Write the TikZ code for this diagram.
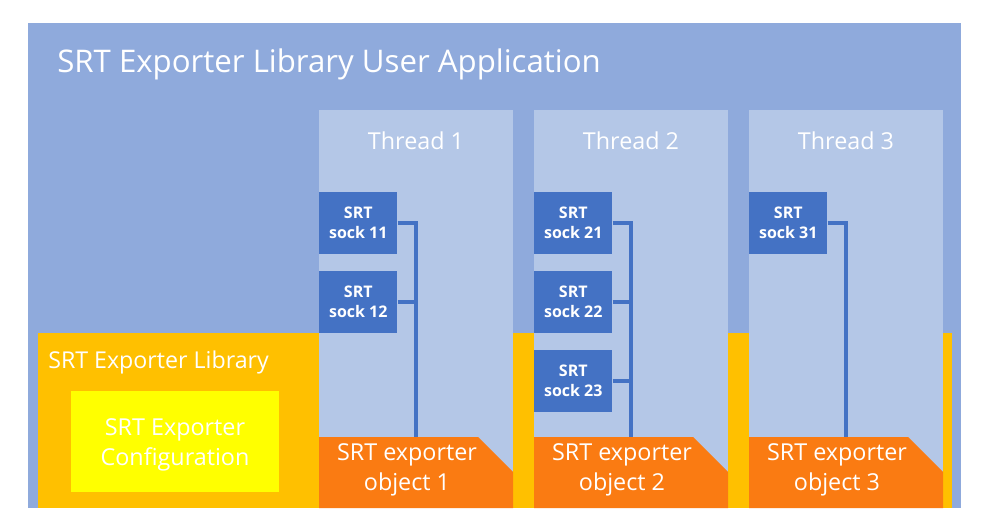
\documentclass[tikz,border=0pt]{standalone}
\usepackage{fontspec}
\setmainfont{Open Sans}
\usetikzlibrary{positioning}
\definecolor{appblue}{RGB}{143,170,220}
\definecolor{threadblue}{RGB}{180,199,231}
\definecolor{sockblue}{RGB}{68,114,196}
\definecolor{libgold}{RGB}{255,192,0}
\definecolor{cfgyellow}{RGB}{255,255,0}
\definecolor{objorange}{RGB}{250,123,18}

\begin{document}
\begin{tikzpicture}[x=0.75pt,y=-0.75pt,
	sock/.style={fill=sockblue, text=white, font=\bfseries\fontsize{12}{15}\selectfont, minimum width=58.5pt, minimum height=46.5pt, inner sep=0pt, align=center, anchor=north west},
	link/.style={draw=sockblue, line width=3pt},
	label/.style={text=white, inner sep=0pt},
	objtext/.style={text=white, inner sep=0pt, align=center, font=\fontsize{17.5}{22.5}\selectfont}]
				\useasboundingbox (0,0) rectangle (988,528);
				\fill[white] (0,0) rectangle (988,528);
				
				% user application
				\fill[appblue] (28,23) rectangle (961,508);
				\node[label, anchor=base west, font=\fontsize{23.4}{28}\selectfont] (app) at (57,73) {SRT Exporter Library User Application};
				
				% library
				\fill[libgold] (38,333) rectangle (952,508);
				\node[label, anchor=base west, font=\fontsize{17.4}{20}\selectfont] (lib) at (48,368) {SRT Exporter Library};
				\fill[cfgyellow] (71,391) rectangle (279,492);
				\node[label, align=center, font=\fontsize{17.5}{23}\selectfont] (cfg) at (175,445) {SRT Exporter\\Configuration};
				
				% threads
				\fill[threadblue] (319,110) rectangle (513,508);
				\fill[threadblue] (534,110) rectangle (728,508);
				\fill[threadblue] (749,110) rectangle (943,508);
				\node[label, font=\fontsize{17.5}{21}\selectfont] (t1) at (416,141) {Thread 1};
				\node[label, font=\fontsize{17.5}{21}\selectfont] (t2) at (631,141) {Thread 2};
				\node[label, font=\fontsize{17.5}{21}\selectfont] (t3) at (846,141) {Thread 3};
				
				% sockets
				\node[sock] (s11) at (319,192) {SRT\\sock 11};
				\node[sock] (s12) at (319,271) {SRT\\sock 12};
				\node[sock] (s21) at (534,192) {SRT\\sock 21};
				\node[sock] (s22) at (534,271) {SRT\\sock 22};
				\node[sock] (s23) at (534,350) {SRT\\sock 23};
				\node[sock] (s31) at (749,192) {SRT\\sock 31};
				
				\coordinate (o1) at (416,437);
				\coordinate (o2) at (631,437);
				\coordinate (o3) at (846,437);
				\draw[link] (s11.east) -| (o1);
				\draw[link] (s12.east) -| (o1);
				\draw[link] (s21.east) -| (o2);
				\draw[link] (s22.east) -| (o2);
				\draw[link] (s23.east) -| (o2);
				\draw[link] (s31.east) -| (o3);
				
				% exporter objects
				\fill[objorange] (319,437) -- (478,437) -- (513,472) -- (513,508) -- (319,508) -- cycle;
				\fill[objorange] (534,437) -- (693,437) -- (728,472) -- (728,508) -- (534,508) -- cycle;
				\fill[objorange] (749,437) -- (908,437) -- (943,472) -- (943,508) -- (749,508) -- cycle;
				\node[objtext] (e1) at (407,470) {SRT exporter\\object 1};
				\node[objtext] (e2) at (622,470) {SRT exporter\\object 2};
				\node[objtext] (e3) at (837,470) {SRT exporter\\object 3};
			\end{tikzpicture}
\end{document}
